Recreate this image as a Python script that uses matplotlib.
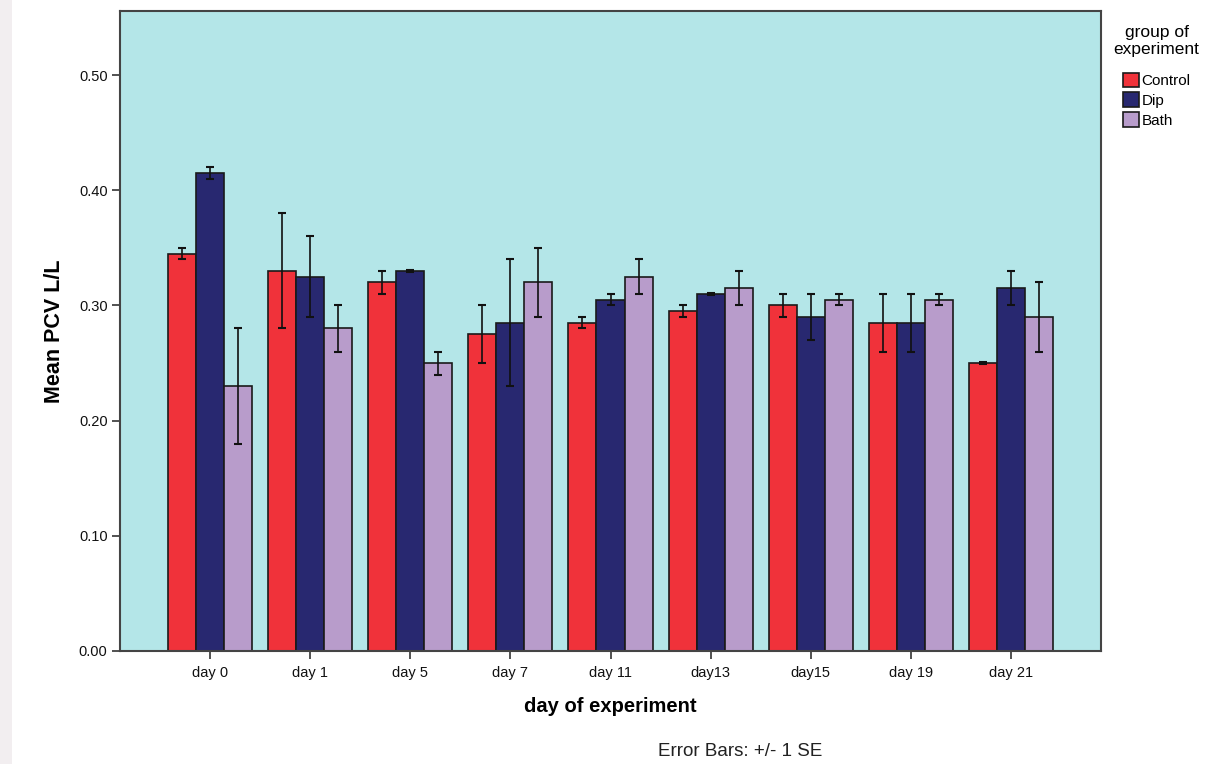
import matplotlib
matplotlib.use("Agg")
import matplotlib.pyplot as plt
import numpy as np
from matplotlib.patches import Rectangle

days = ["day 0", "day 1", "day 5", "day 7", "day 11", "day13", "day15", "day 19", "day 21"]
groups = ["Control", "Dip", "Bath"]
control = [0.345, 0.330, 0.320, 0.275, 0.285, 0.295, 0.300, 0.285, 0.250]
dip     = [0.415, 0.325, 0.330, 0.285, 0.305, 0.310, 0.290, 0.285, 0.315]
bath    = [0.230, 0.280, 0.250, 0.320, 0.325, 0.315, 0.305, 0.305, 0.290]
control_se = [0.005, 0.050, 0.010, 0.025, 0.005, 0.005, 0.010, 0.025, 0.001]
dip_se     = [0.005, 0.035, 0.001, 0.055, 0.005, 0.001, 0.020, 0.025, 0.015]
bath_se    = [0.050, 0.020, 0.010, 0.030, 0.015, 0.015, 0.005, 0.005, 0.030]
colors = ["#F0323A", "#282870", "#B89CCB"]

plt.rcParams['font.family'] = ['Liberation Sans', 'DejaVu Sans']

fig = plt.figure(figsize=(12.2, 7.64), dpi=100)
fig.patches.append(Rectangle((0, 0), 12/1220, 1, transform=fig.transFigure,
                             facecolor="#F2EEF0", edgecolor="none", zorder=0))
ax = fig.add_axes([120/1220, 1 - 651/764, (1101-120)/1220, (651-11)/764])
ax.set_facecolor("#B4E6E8")

x = np.arange(len(days))
w = 0.28
series = [control, dip, bath]
errs = [control_se, dip_se, bath_se]
for i, (vals, e, c, g) in enumerate(zip(series, errs, colors, groups)):
    pos = x + (i - 1) * w
    ax.bar(pos, vals, width=w, color=c, edgecolor="#1a1a1a", linewidth=1.2, label=g, zorder=2)
    ax.errorbar(pos, vals, yerr=e, fmt="none", ecolor="#111111", elinewidth=1.2,
                capsize=2.8, capthick=1.5, zorder=3)

ax.set_xlim(-0.9, 8.9)
ax.set_ylim(0, 0.5556)
ax.set_yticks([0, 0.1, 0.2, 0.3, 0.4, 0.5])
ax.set_yticklabels(["0.00", "0.10", "0.20", "0.30", "0.40", "0.50"])
ax.set_xticks(x)
ax.set_xticklabels(days)
ax.tick_params(axis="both", direction="out", length=6, width=1.2, colors="#333333",
               labelcolor="#111111")
ax.tick_params(axis="y", labelsize=10.5, pad=3)
ax.tick_params(axis="x", labelsize=10.5, pad=5)
for s in ax.spines.values():
    s.set_color("#444444")
    s.set_linewidth(1.5)

ax.set_ylabel("Mean PCV L/L", fontsize=15.5, fontweight="bold", labelpad=10)
ax.set_xlabel("day of experiment", fontsize=14.5, fontweight="bold", labelpad=12)

leg = ax.legend(loc="upper left", bbox_to_anchor=(1.002, 0.995), frameon=False,
                title="group of\nexperiment", fontsize=11, title_fontsize=12.5,
                handlelength=1.05, handleheight=1.05, handletextpad=0.15,
                labelspacing=0.3, borderaxespad=0.3)
leg.get_title().set_multialignment("center")
leg._legend_box.sep = 11

fig.text(740/1220, 1 - 752/764, "Error Bars: +/- 1 SE", ha="center", va="center",
         fontsize=13.5, color="#222222")

fig.savefig("out.png", dpi=100)
